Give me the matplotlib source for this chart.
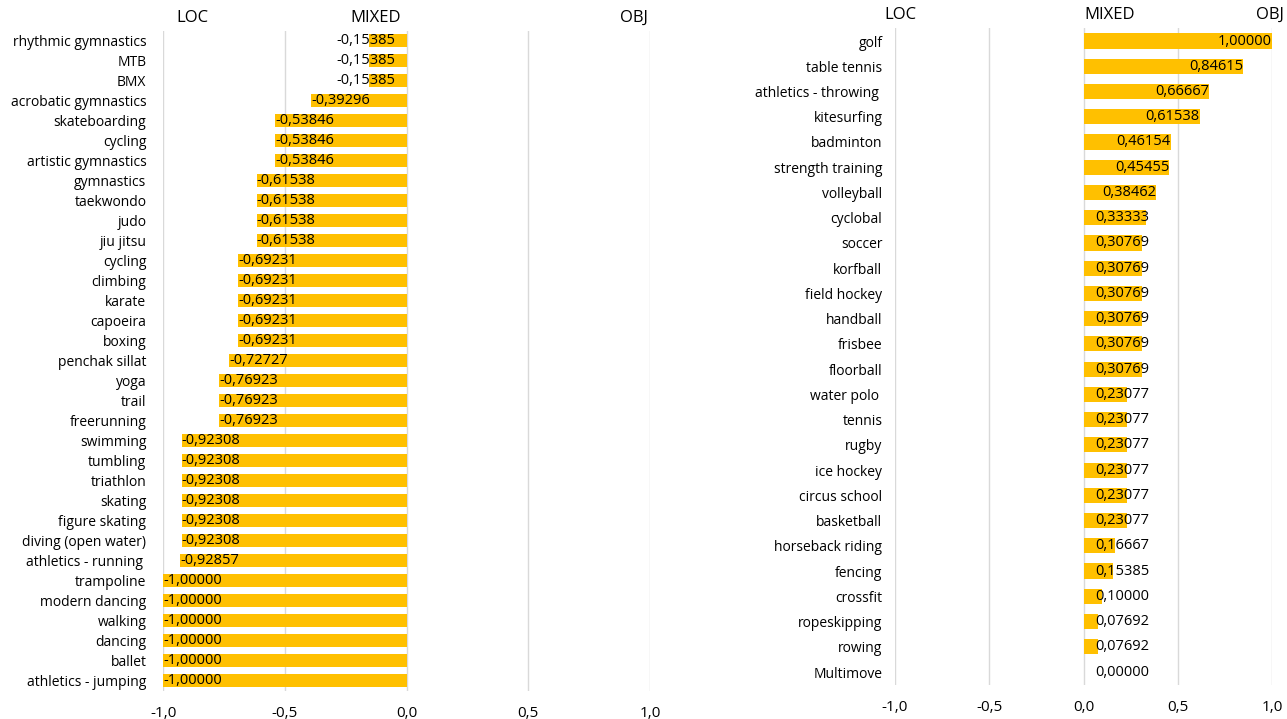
import matplotlib.pyplot as plt

plt.rcParams['font.family'] = ['Open Sans', 'DejaVu Sans']

# left panel: LOC side
left_sports = ['rhythmic gymnastics', 'MTB', 'BMX', 'acrobatic gymnastics', 'skateboarding',
               'cycling', 'artistic gymnastics', 'gymnastics', 'taekwondo', 'judo', 'jiu jitsu',
               'cycling', 'climbing', 'karate', 'capoeira', 'boxing', 'penchak sillat', 'yoga',
               'trail', 'freerunning', 'swimming', 'tumbling', 'triathlon', 'skating',
               'figure skating', 'diving (open water)', 'athletics - running ', 'trampoline',
               'modern dancing', 'walking', 'dancing', 'ballet', 'athletics - jumping']
left_values = [-0.15385, -0.15385, -0.15385, -0.39296, -0.53846, -0.53846, -0.53846,
               -0.61538, -0.61538, -0.61538, -0.61538, -0.69231, -0.69231, -0.69231,
               -0.69231, -0.69231, -0.72727, -0.76923, -0.76923, -0.76923, -0.92308,
               -0.92308, -0.92308, -0.92308, -0.92308, -0.92308, -0.92857, -1.0, -1.0,
               -1.0, -1.0, -1.0, -1.0]

# right panel: OBJ side
right_sports = ['golf', 'table tennis', 'athletics - throwing ', 'kitesurfing', 'badminton',
                'strength training', 'volleyball', 'cyclobal', 'soccer', 'korfball',
                'field hockey', 'handball', 'frisbee', 'floorball', 'water polo ', 'tennis',
                'rugby', 'ice hockey', 'circus school', 'basketball', 'horseback riding',
                'fencing', 'crossfit', 'ropeskipping', 'rowing', 'Multimove']
right_values = [1.0, 0.84615, 0.66667, 0.61538, 0.46154, 0.45455, 0.38462, 0.33333,
                0.30769, 0.30769, 0.30769, 0.30769, 0.30769, 0.30769, 0.23077, 0.23077,
                0.23077, 0.23077, 0.23077, 0.23077, 0.16667, 0.15385, 0.10000, 0.07692,
                0.07692, 0.0]

xticks = [-1.0, -0.5, 0.0, 0.5, 1.0]
headers = ['LOC', 'MIXED', 'OBJ']

BAR = '#FFC000'
GRID = '#D9D9D9'


def fmt(v):
    return f'{v:.5f}'.replace('.', ',')


def setup(ax, sports, fs, pad):
    n = len(sports)
    ax.set_xlim(-1, 1)
    ax.set_ylim(n - 0.5, -0.5)
    ax.set_yticks(range(n))
    ax.set_yticklabels(sports, fontsize=fs)
    ax.set_xticks(xticks)
    ax.set_xticklabels([f'{t:.1f}'.replace('.', ',') for t in xticks], fontsize=11)
    for s in ax.spines.values():
        s.set_visible(False)
    ax.tick_params(length=0)
    ax.tick_params(axis='y', pad=pad)
    ax.tick_params(axis='x', pad=11)
    ax.grid(axis='x', color=GRID, linewidth=1)
    ax.set_axisbelow(True)


fig = plt.figure(figsize=(12.87, 7.19), dpi=100)

ax1 = fig.add_axes([0.1267, 0.039, 0.3784, 0.918])
setup(ax1, left_sports, 10, 12)
ax1.barh(range(len(left_values)), left_values, height=0.65, color=BAR)
w1 = 0.29
for i, v in enumerate(left_values):
    ax1.text(min(v, -w1), i, fmt(v), ha='left', va='center', fontsize=10.5)

ax2 = fig.add_axes([0.6954, 0.0478, 0.293, 0.9127])
setup(ax2, right_sports, 10, 9)
ax2.barh(range(len(right_values)), right_values, height=0.6, color=BAR)
w2 = 0.35
for i, v in enumerate(right_values):
    ax2.text(max(v, w2), i, fmt(v), ha='right', va='center', fontsize=10.5)

# header labels above each panel
for (x, lab) in zip([192, 376, 634], headers):
    fig.text(x / 1287, 1 - 18 / 719, lab, ha='center', va='center', fontsize=12)
for (x, lab) in zip([900, 1110, 1270], headers):
    fig.text(x / 1287, 1 - 15 / 719, lab, ha='center', va='center', fontsize=12)

fig.savefig('out.png', dpi=100)
